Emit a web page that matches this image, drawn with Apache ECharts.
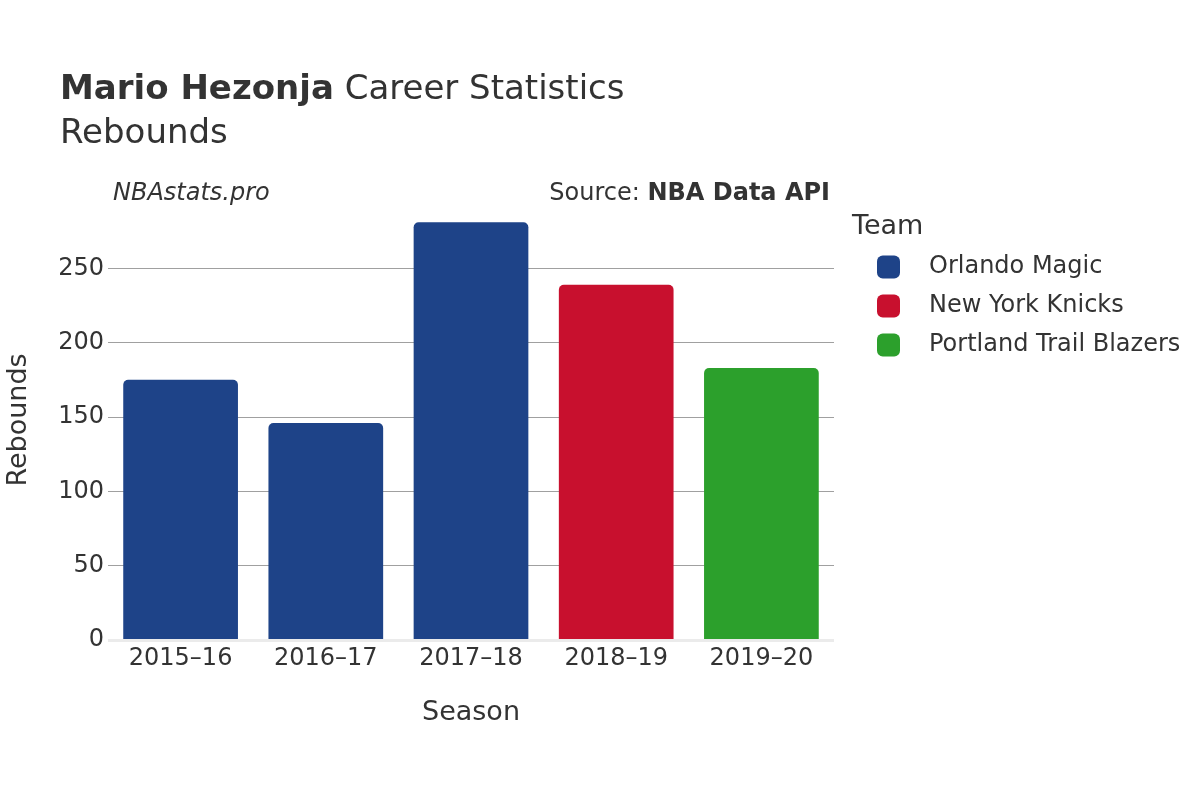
<!DOCTYPE html>
<html>
<head>
<meta charset="utf-8">
<script src="https://cdn.jsdelivr.net/npm/echarts@6/dist/echarts.min.js"></script>
<style>html,body{margin:0;padding:0;background:#fff}#c{width:1200px;height:800px}</style>
</head>
<body>
<div id="c"></div>
<script>
const seasons = ['2015–16', '2016–17', '2017–18', '2018–19', '2019–20'];
const seasonTeams = ['Orlando Magic', 'Orlando Magic', 'Orlando Magic', 'New York Knicks', 'Portland Trail Blazers'];
const rebounds = [175, 146, 281, 239, 183];
const teams = ['Orlando Magic', 'New York Knicks', 'Portland Trail Blazers'];
const teamColors = ['#1E4388', '#C8102E', '#2CA02C'];
const yTicks = [0, 50, 100, 150, 200, 250];
const yMax = 296;

const FONT = 'DejaVu Sans';
const TXT = '#333333';

const series = teams.map((t, i) => ({
  name: t,
  type: 'bar',
  stack: 'all',
  barCategoryGap: '21%',
  itemStyle: { color: teamColors[i], borderRadius: [5, 5, 0, 0] },
  data: seasons.map((s, j) => seasonTeams[j] === t ? rebounds[j] : null)
}));
series.push({
  type: 'line', data: [], silent: true,
  markLine: {
    silent: true, symbol: 'none', label: { show: false },
    lineStyle: { color: '#ebebeb', width: 3, type: 'solid' },
    data: [{ yAxis: 0 }]
  }
});

const chart = echarts.init(document.getElementById('c'), null, { renderer: 'canvas' });
chart.setOption({
  animation: false,
  backgroundColor: '#ffffff',
  textStyle: { fontFamily: FONT, color: TXT },
  grid: { left: 108, top: 200, width: 726, height: 440, containLabel: false, outerBoundsMode: 'none' },
  xAxis: {
    type: 'category',
    data: seasons,
    axisLine: { show: false },
    axisTick: { show: false },
    axisLabel: { fontSize: 24, color: TXT, fontFamily: FONT, margin: 7 },
    name: 'Season',
    nameLocation: 'middle',
    nameGap: 59,
    nameTextStyle: { fontSize: 27, color: TXT, fontFamily: FONT }
  },
  yAxis: {
    type: 'value',
    min: 0, max: yMax, interval: 50,
    axisLine: { show: false },
    axisTick: { show: false },
    axisLabel: {
      fontSize: 24, color: TXT, fontFamily: FONT, margin: 4,
      showMaxLabel: false,
      formatter: v => yTicks.includes(v) ? String(v) : ''
    },
    splitLine: { show: true, showMinLine: false, showMaxLine: false, lineStyle: { color: '#a0a0a0', width: 1 } },
    name: 'Rebounds',
    nameLocation: 'middle',
    nameGap: 76,
    nameTextStyle: { fontSize: 27, color: TXT, fontFamily: FONT }
  },
  legend: {
    orient: 'vertical',
    left: 872, top: 250,
    icon: 'roundRect',
    itemWidth: 23, itemHeight: 23, itemGap: 15,
    data: teams,
    textStyle: { fontSize: 24, color: TXT, fontFamily: FONT, padding: [0, 0, 0, 24] }
  },
  graphic: [
    { type: 'text', left: 60, top: 73, style: {
      text: '{b|Mario Hezonja} Career Statistics',
      font: '34px "DejaVu Sans"', fill: TXT,
      rich: { b: { fontWeight: 'bold', fontSize: 34, fontFamily: FONT, fill: TXT } }
    } },
    { type: 'text', left: 60, top: 117, style: { text: 'Rebounds', font: '34px "DejaVu Sans"', fill: TXT } },
    { type: 'text', left: 113, top: 182, style: { text: 'NBAstats.pro', font: 'italic 24px "DejaVu Sans"', fill: TXT } },
    { type: 'text', right: 370, top: 182, style: {
      text: 'Source: {b|NBA Data API}', font: '24px "DejaVu Sans"', fill: TXT,
      rich: { b: { fontWeight: 'bold', fontSize: 24, fontFamily: FONT, fill: TXT } }
    } },
    { type: 'text', left: 852, top: 213, style: { text: 'Team', font: '27px "DejaVu Sans"', fill: TXT } }
  ],
  series: series
});
</script>
</body>
</html>
